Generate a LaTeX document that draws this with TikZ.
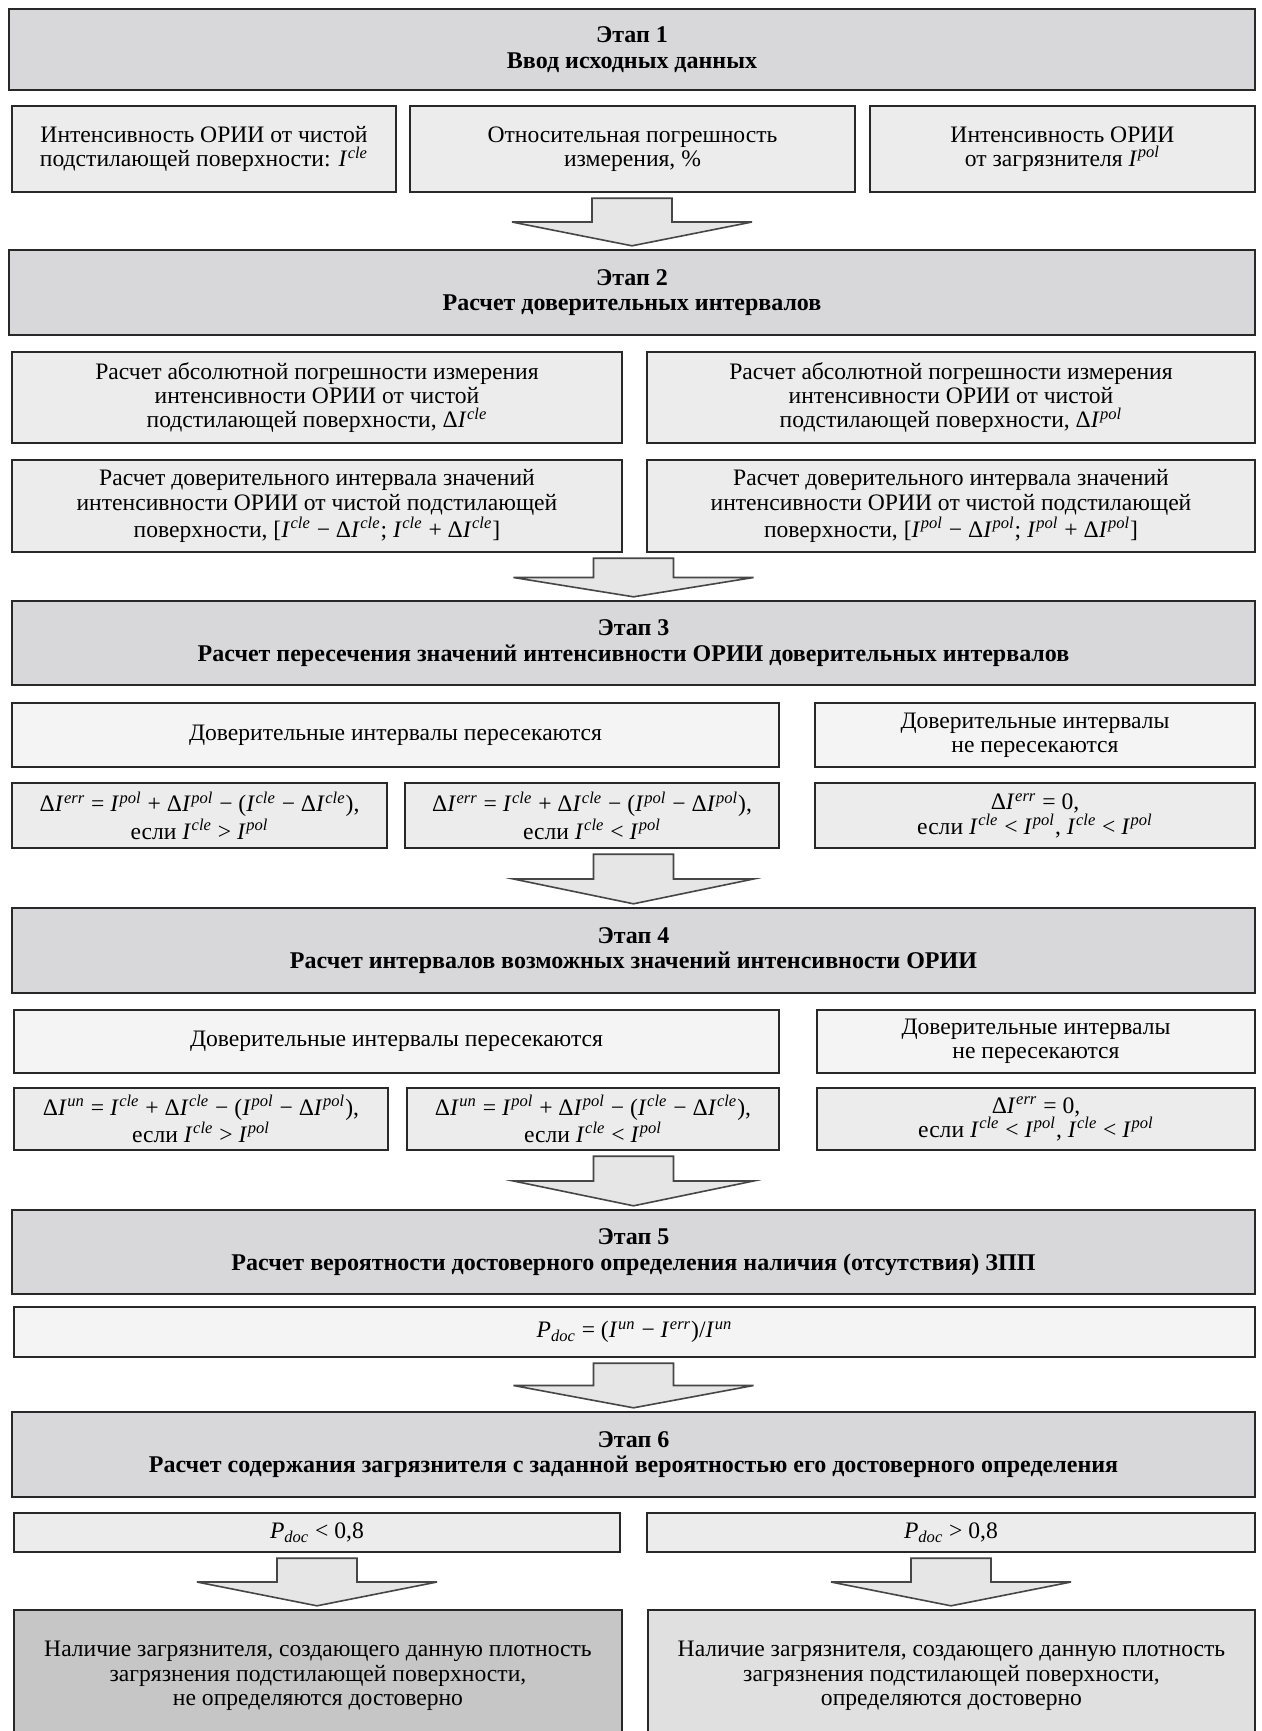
\documentclass[tikz,border=0pt]{standalone}
\usepackage{fontspec}
\setmainfont{Liberation Serif}
\usetikzlibrary{calc}
\definecolor{bordc}{RGB}{40,40,40}
\definecolor{stagec}{RGB}{216,216,218}
\definecolor{subc}{RGB}{236,236,236}
\definecolor{lightc}{RGB}{244,244,244}
\definecolor{darkc}{RGB}{198,198,198}
\definecolor{midc}{RGB}{224,224,224}
\definecolor{arrc}{RGB}{230,230,230}
\definecolor{arrd}{RGB}{70,70,70}
\newcommand\Iv[1]{\textit{I}\kern0.02em\textsuperscript{\textit{#1}}}
\newcommand\Pdoc{\textit{P}\textsubscript{\textit{doc}}}
\newcommand\bx[7]{%
  \node[#1, minimum width={(#5-#3)*0.5pt}, minimum height={(#6-#4)*0.5pt}]
    (#2) at ({(#3+#5)/2},{(#4+#6)/2}) {#7};}
\newcommand\barrow[2]{%
  \draw[blockarr] let \p1=#1, \p2=#2 in
   (\x1-20pt,\y1) -- (\x1+20pt,\y1) -- (\x1+20pt,{0.5*\y1+0.5*\y2}) -- (\x1+60pt,{0.5*\y1+0.5*\y2})
   -- (\x1,\y2) -- (\x1-60pt,{0.5*\y1+0.5*\y2}) -- (\x1-20pt,{0.5*\y1+0.5*\y2}) -- cycle;}
\tikzset{
  basebox/.style={draw=bordc, line width=1.2pt, inner sep=0pt, align=center,
    font=\fontsize{11.8}{12.2}\selectfont},
  stagebox/.style={basebox, fill=stagec, font=\fontsize{12}{12.8}\selectfont\bfseries},
  subbox/.style={basebox, fill=subc},
  lightbox/.style={basebox, fill=lightc},
  blockarr/.style={draw=arrd, line width=0.8pt, fill=arrc, line join=miter},
}
\begin{document}
\begin{tikzpicture}[x=0.5pt,y=-0.5pt]
\useasboundingbox (0,0) rectangle (1262,1731);
\clip (0,0) rectangle (1262,1731);
\fill[white] (0,0) rectangle (1262,1731);

% Stage 1
\bx{stagebox}{s1}{9}{9}{1255}{90}{Этап 1\\Ввод исходных данных}
\bx{subbox}{r1a}{12}{106}{396}{192}{Интенсивность ОРИИ от чистой\\подстилающей поверхности: \Iv{cle}}
\bx{subbox}{r1b}{410}{106}{855}{192}{Относительная погрешность\\измерения, \%}
\bx{subbox}{r1c}{870}{106}{1255}{192}{Интенсивность ОРИИ\\от загрязнителя \Iv{pol}}

% Stage 2
\bx{stagebox}{s2}{9}{250}{1255}{335}{Этап 2\\Расчет доверительных интервалов}
\bx{subbox}{r2aL}{12}{352}{622}{443}{Расчет абсолютной погрешности измерения\\интенсивности ОРИИ от чистой\\подстилающей поверхности, Δ\Iv{cle}}
\bx{subbox}{r2aR}{647}{352}{1255}{443}{Расчет абсолютной погрешности измерения\\интенсивности ОРИИ от чистой\\подстилающей поверхности, Δ\Iv{pol}}
\bx{subbox}{r2bL}{12}{460}{622}{552}{Расчет доверительного интервала значений\\интенсивности ОРИИ от чистой подстилающей\\поверхности, [\Iv{cle} − Δ\Iv{cle}; \Iv{cle} + Δ\Iv{cle}]}
\bx{subbox}{r2bR}{647}{460}{1255}{552}{Расчет доверительного интервала значений\\интенсивности ОРИИ от чистой подстилающей\\поверхности, [\Iv{pol} − Δ\Iv{pol}; \Iv{pol} + Δ\Iv{pol}]}

% Stage 3
\bx{stagebox}{s3}{12}{601}{1255}{685}{Этап 3\\Расчет пересечения значений интенсивности ОРИИ доверительных интервалов}
\bx{lightbox}{r3a}{12}{703}{779}{767}{Доверительные интервалы пересекаются}
\bx{lightbox}{r3c}{815}{703}{1255}{767}{Доверительные интервалы\\не пересекаются}
\bx{subbox}{r3bL}{12}{783}{387}{848}{Δ\Iv{err} = \Iv{pol} + Δ\Iv{pol} − (\Iv{cle} − Δ\Iv{cle}),\\если \Iv{cle} > \Iv{pol}}
\bx{subbox}{r3bM}{405}{783}{779}{848}{Δ\Iv{err} = \Iv{cle} + Δ\Iv{cle} − (\Iv{pol} − Δ\Iv{pol}),\\если \Iv{cle} < \Iv{pol}}
\bx{subbox}{r3bR}{815}{783}{1255}{848}{Δ\Iv{err} = 0,\\если \Iv{cle} < \Iv{pol}, \Iv{cle} < \Iv{pol}}

% Stage 4
\bx{stagebox}{s4}{12}{908}{1255}{993}{Этап 4\\Расчет интервалов возможных значений интенсивности ОРИИ}
\bx{lightbox}{r4a}{14}{1010}{779}{1073}{Доверительные интервалы пересекаются}
\bx{lightbox}{r4c}{817}{1010}{1255}{1073}{Доверительные интервалы\\не пересекаются}
\bx{subbox}{r4bL}{14}{1088}{388}{1150}{Δ\Iv{un} = \Iv{cle} + Δ\Iv{cle} − (\Iv{pol} − Δ\Iv{pol}),\\если \Iv{cle} > \Iv{pol}}
\bx{subbox}{r4bM}{407}{1088}{779}{1150}{Δ\Iv{un} = \Iv{pol} + Δ\Iv{pol} − (\Iv{cle} − Δ\Iv{cle}),\\если \Iv{cle} < \Iv{pol}}
\bx{subbox}{r4bR}{817}{1088}{1255}{1150}{Δ\Iv{err} = 0,\\если \Iv{cle} < \Iv{pol}, \Iv{cle} < \Iv{pol}}

% Stage 5
\bx{stagebox}{s5}{12}{1210}{1255}{1294}{Этап 5\\Расчет вероятности достоверного определения наличия (отсутствия) ЗПП}
\bx{lightbox}{r5}{14}{1307}{1255}{1357}{\Pdoc{} = (\Iv{un} − \Iv{err})/\Iv{un}}

% Stage 6
\bx{stagebox}{s6}{12}{1412}{1255}{1497}{Этап 6\\Расчет содержания загрязнителя с заданной вероятностью его достоверного определения}
\bx{subbox}{r6L}{14}{1513}{620}{1552}{\Pdoc{} < 0,8}
\bx{subbox}{r6R}{647}{1513}{1255}{1552}{\Pdoc{} > 0,8}
\bx{basebox, fill=darkc}{fL}{14}{1610}{622}{1742}{Наличие загрязнителя, создающего данную плотность\\загрязнения подстилающей поверхности,\\не определяются достоверно}
\bx{basebox, fill=midc}{fR}{648}{1610}{1255}{1742}{Наличие загрязнителя, создающего данную плотность\\загрязнения подстилающей поверхности,\\определяются достоверно}

% Block arrows
\barrow{($(s2.north |- r1b.south)+(0,-2.5pt)$)}{($(s2.north)+(0,1.5pt)$)}
\barrow{($(s3.north |- r2bL.south)+(0,-2.5pt)$)}{($(s3.north)+(0,1.5pt)$)}
\barrow{($(s4.north |- r3bM.south)+(0,-2.5pt)$)}{($(s4.north)+(0,1.5pt)$)}
\barrow{($(s5.north |- r4bM.south)+(0,-2.5pt)$)}{($(s5.north)+(0,1.5pt)$)}
\barrow{($(s6.north |- r5.south)+(0,-2.5pt)$)}{($(s6.north)+(0,1.5pt)$)}
\barrow{($(r6L.south)+(0,-2.5pt)$)}{($(fL.north)+(0,1.5pt)$)}
\barrow{($(r6R.south)+(0,-2.5pt)$)}{($(fR.north)+(0,1.5pt)$)}
\end{tikzpicture}
\end{document}
